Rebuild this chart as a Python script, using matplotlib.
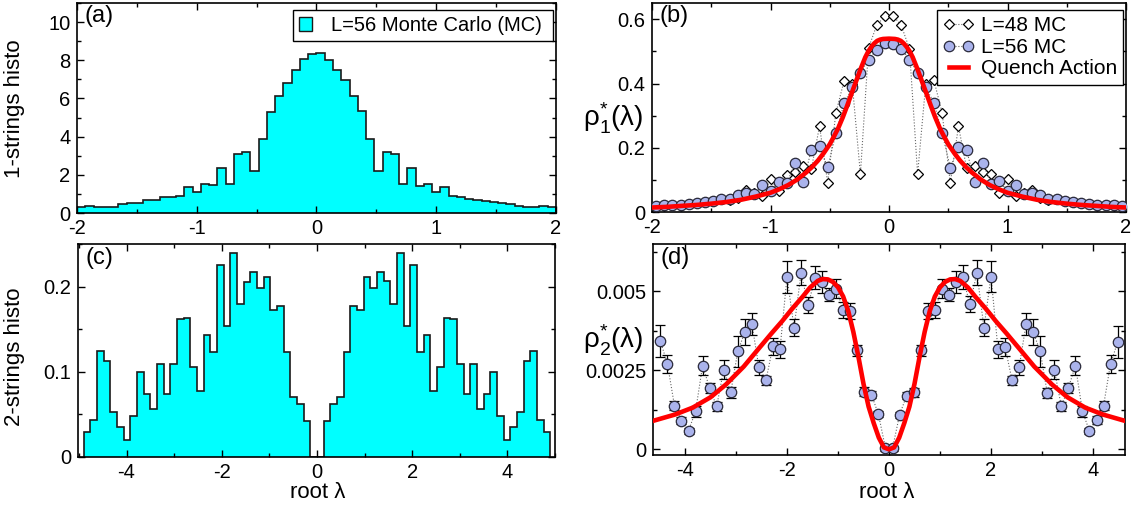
import numpy as np
import matplotlib
matplotlib.use("Agg")
import matplotlib.pyplot as plt
from matplotlib.ticker import MultipleLocator, FuncFormatter
from matplotlib.patches import Patch

plt.rcParams['font.family'] = ['Liberation Sans', 'DejaVu Sans']
plt.rcParams['axes.unicode_minus'] = False
plt.rcParams['mathtext.fontset'] = 'custom'
plt.rcParams['mathtext.rm'] = 'Liberation Sans'
plt.rcParams['mathtext.it'] = 'Liberation Sans:italic'

# ---------------- data ----------------
# (a) 1-strings histogram, 58 bins on [-2, 2]
hist1_edges = np.linspace(-2, 2, 59)
hist1_vals = [0.31, 0.35, 0.31, 0.31, 0.33, 0.45, 0.53, 0.55, 0.66, 0.66,
              0.82, 0.86, 0.88, 1.34, 1.10, 1.52, 1.46, 2.35, 1.50, 3.08,
              3.18, 2.20, 3.90, 5.30, 6.12, 6.82, 7.50, 8.05, 8.32,
              8.38, 8.03, 7.51, 6.96, 6.14, 5.34, 3.88, 2.21, 3.18, 3.08,
              1.51, 2.35, 1.44, 1.51, 1.10, 1.34, 0.87, 0.83, 0.75, 0.66,
              0.64, 0.56, 0.52, 0.45, 0.35, 0.33, 0.33, 0.35, 0.30]

# (c) 2-strings histogram, 70 bins of 0.14 on [-4.9, 4.9]
hist2_edges = np.linspace(-4.9, 4.9, 71)
hist2_vals = [0.0295, 0.044, 0.124, 0.113, 0.053, 0.035, 0.020, 0.048, 0.100, 0.074,
              0.056, 0.109, 0.074, 0.109, 0.162, 0.163, 0.106, 0.078, 0.143, 0.123,
              0.2256, 0.154, 0.239, 0.179, 0.205, 0.217, 0.198, 0.211, 0.173, 0.177,
              0.123, 0.070, 0.062, 0.042, 0.0, 0.0,
              0.042, 0.062, 0.071, 0.123, 0.177, 0.173, 0.211, 0.198, 0.217, 0.206,
              0.179, 0.239, 0.154, 0.2256, 0.123, 0.143, 0.078, 0.106, 0.163, 0.162,
              0.109, 0.074, 0.109, 0.056, 0.074, 0.100, 0.048, 0.020, 0.035, 0.053,
              0.113, 0.124, 0.044, 0.0295]

# (b) rho_1 densities on the bin centres of (a)
x_b = 0.5 * (hist1_edges[:-1] + hist1_edges[1:])
rho1_L48 = [0.018, 0.020, 0.021, 0.020, 0.025, 0.027, 0.030, 0.033, 0.040, 0.038,
            0.045, 0.068, 0.060, 0.050, 0.102, 0.066, 0.116, 0.125, 0.143, 0.135,
            0.267, 0.091, 0.309, 0.408, 0.400, 0.118, 0.511, 0.582, 0.610,
            0.612, 0.581, 0.509, 0.118, 0.400, 0.410, 0.309, 0.091, 0.267, 0.136,
            0.143, 0.125, 0.117, 0.060, 0.102, 0.050, 0.060, 0.068, 0.045, 0.038,
            0.040, 0.033, 0.030, 0.027, 0.025, 0.020, 0.021, 0.020, 0.018]
rho1_L56 = [0.020, 0.022, 0.021, 0.021, 0.024, 0.027, 0.031, 0.035, 0.039, 0.040,
            0.053, 0.060, 0.056, 0.083, 0.066, 0.095, 0.089, 0.153, 0.092, 0.194,
            0.205, 0.139, 0.245, 0.338, 0.388, 0.433, 0.475, 0.506, 0.527,
            0.522, 0.509, 0.475, 0.434, 0.388, 0.340, 0.247, 0.138, 0.203, 0.193,
            0.092, 0.153, 0.087, 0.096, 0.066, 0.083, 0.056, 0.060, 0.053, 0.040,
            0.039, 0.035, 0.031, 0.027, 0.024, 0.021, 0.021, 0.022, 0.020]
qa1_x = [-2.0, -1.875, -1.75, -1.625, -1.5, -1.375, -1.25, -1.125, -1.0, -0.925,
         -0.85, -0.775, -0.7, -0.65, -0.6, -0.55, -0.5, -0.465, -0.43, -0.39,
         -0.35, -0.315, -0.28, -0.24, -0.2, -0.175, -0.15, -0.125, -0.1, -0.075,
         -0.05, 0.0, 0.05, 0.075, 0.1, 0.125, 0.15, 0.175, 0.2, 0.24, 0.28,
         0.315, 0.35, 0.39, 0.43, 0.465, 0.5, 0.55, 0.6, 0.65, 0.7, 0.775,
         0.85, 0.925, 1.0, 1.125, 1.25, 1.375, 1.5, 1.625, 1.75, 1.875, 2.0]
qa1_y = [0.014, 0.016, 0.019, 0.022, 0.026, 0.031, 0.038, 0.048, 0.060, 0.071,
         0.084, 0.101, 0.123, 0.140, 0.160, 0.184, 0.211, 0.235, 0.260, 0.295,
         0.334, 0.370, 0.405, 0.445, 0.482, 0.500, 0.514, 0.525, 0.533, 0.537,
         0.539, 0.540, 0.539, 0.537, 0.533, 0.525, 0.514, 0.500, 0.482, 0.445, 0.405,
         0.370, 0.334, 0.295, 0.260, 0.235, 0.211, 0.184, 0.160, 0.140, 0.123, 0.101,
         0.084, 0.071, 0.060, 0.048, 0.038, 0.031, 0.026, 0.022, 0.019, 0.016, 0.014]

# (d) rho_2 densities (units of 1e-3) with error bars
x_d_half = 0.069 + 0.138 * np.arange(33)
x_d = np.concatenate([-x_d_half[::-1], x_d_half])
rho2_L56 = [3.42, 2.71, 1.38, 0.91, 0.59, 1.20, 2.65, 1.94, 1.36, 2.52,
            1.80, 3.10, 3.71, 3.98, 2.60, 2.18, 3.26, 3.16, 5.46, 3.85,
            5.59, 4.57, 5.43, 5.30, 4.90, 5.08, 4.40, 4.37, 3.13, 1.83,
            1.73, 1.11, 0.03,
            0.03, 1.09, 1.70, 1.81, 3.13, 4.37, 4.40, 5.08, 4.90, 5.30,
            5.46, 4.59, 5.59, 3.85, 5.47, 3.16, 3.24, 2.18, 2.60, 3.98,
            3.71, 3.10, 1.78, 2.52, 1.36, 1.94, 2.65, 1.20, 0.58, 0.93,
            1.38, 2.71, 3.39]
rho2_err = [0.50, 0.28, 0.15, 0.12, 0.10, 0.18, 0.29, 0.15, 0.14, 0.30,
            0.17, 0.50, 0.40, 0.35, 0.24, 0.15, 0.27, 0.26, 0.50, 0.27,
            0.40, 0.25, 0.37, 0.34, 0.20, 0.30, 0.25, 0.25, 0.16, 0.14,
            0.12, 0.10, 0.08,
            0.08, 0.10, 0.12, 0.14, 0.16, 0.25, 0.25, 0.30, 0.20, 0.34,
            0.37, 0.25, 0.40, 0.27, 0.50, 0.26, 0.27, 0.15, 0.24, 0.35,
            0.40, 0.50, 0.17, 0.30, 0.14, 0.15, 0.29, 0.18, 0.10, 0.12,
            0.15, 0.28, 0.50]
qa2_x = [-4.63, -4.2, -3.85, -3.5, -3.2, -2.85, -2.55, -2.3, -2.1, -1.9,
         -1.7, -1.55, -1.4, -1.3, -1.2, -1.1, -1.0, -0.9, -0.8, -0.7, -0.6,
         -0.5, -0.4, -0.3, -0.2, -0.1, 0.0, 0.1, 0.2, 0.3, 0.4, 0.5, 0.6,
         0.7, 0.8, 0.9, 1.0, 1.1, 1.2, 1.3, 1.4, 1.55, 1.7, 1.9, 2.1, 2.3,
         2.55, 2.85, 3.2, 3.5, 3.85, 4.2, 4.63]
qa2_y = [0.90, 1.10, 1.32, 1.65, 2.05, 2.62, 3.20, 3.68, 4.05, 4.45,
         4.82, 5.12, 5.33, 5.39, 5.38, 5.30, 5.13, 4.84, 4.38, 3.72, 2.93,
         2.07, 1.35, 0.83, 0.37, 0.06, 0.0, 0.06, 0.37, 0.83, 1.35, 2.07, 2.93,
         3.72, 4.38, 4.84, 5.13, 5.30, 5.38, 5.39, 5.33, 5.12, 4.82, 4.45, 4.05,
         3.68, 3.20, 2.62, 2.05, 1.65, 1.32, 1.10, 0.90]

# ---------------- styling ----------------
W, H = 1133, 514
fig = plt.figure(figsize=(W / 100, H / 100), dpi=100)

def frac(l, r, t, b):
    return [l / W, 1 - b / H, (r - l) / W, (b - t) / H]

axA = fig.add_axes(frac(77, 556, 3, 213))
axB = fig.add_axes(frac(652, 1126, 3, 212))
axC = fig.add_axes(frac(78, 555, 244, 457))
axD = fig.add_axes(frac(653, 1125, 244, 455))

FS = 14.5
fmt = FuncFormatter(lambda v, p: '%g' % v)
for ax in (axA, axB, axC, axD):
    ax.tick_params(which='both', direction='in', top=True, right=True,
                   labelsize=FS, width=1.0)
    ax.tick_params(which='major', length=5)
    ax.tick_params(which='minor', length=3)
    ax.tick_params(axis='x', which='major', pad=4.6)
    ax.tick_params(axis='y', which='major', pad=4.6)
    for s in ax.spines.values():
        s.set_linewidth(1.2)
    ax.xaxis.set_major_formatter(fmt)
    ax.yaxis.set_major_formatter(fmt)

cyan = '#00ffff'
edge = '#1a1a1a'
circ_face = '#aab3ec'
circ_edge = '#2a2a3a'
red = '#ff0000'
PL = 17

# (a)
axA.stairs(hist1_vals, hist1_edges, fill=True, color=cyan, baseline=0)
axA.stairs(hist1_vals, hist1_edges, color=edge, lw=1.2, baseline=0)
axA.set_xlim(-2, 2)
axA.set_ylim(0, 11)
axA.xaxis.set_major_locator(MultipleLocator(1))
axA.xaxis.set_minor_locator(MultipleLocator(0.5))
axA.yaxis.set_major_locator(MultipleLocator(2))
axA.yaxis.set_minor_locator(MultipleLocator(1))
legA = axA.legend([Patch(facecolor=cyan, edgecolor=edge, lw=1)],
                  ['L=56 Monte Carlo (MC) '], loc='upper right',
                  bbox_to_anchor=(0.994, 0.967), borderaxespad=0,
                  fontsize=14.5, handlelength=0.65, handleheight=0.65,
                  handletextpad=0.9, borderpad=0.3, fancybox=False,
                  framealpha=1)
legA.get_frame().set_edgecolor('black')
legA.get_frame().set_linewidth(1.0)
axA.text(0.016, 0.99, '(a)', transform=axA.transAxes, ha='left', va='top',
         fontsize=PL)

# (b)
axB.plot(x_b, rho1_L48, ls=':', color='#666666', lw=0.8, marker='D', ms=5.5,
         mfc='white', mec='black', mew=0.9, label='L=48 MC', zorder=3)
axB.plot(x_b, rho1_L56, ls=':', color='#666666', lw=0.8, marker='o', ms=7.5,
         mfc=circ_face, mec=circ_edge, mew=0.9, label='L=56 MC', zorder=4)
axB.plot(qa1_x, qa1_y, color=red, lw=3.3, label='Quench Action', zorder=5)
axB.set_xlim(-2, 2)
axB.set_ylim(0, 0.651)
axB.xaxis.set_major_locator(MultipleLocator(1))
axB.xaxis.set_minor_locator(MultipleLocator(0.5))
axB.yaxis.set_major_locator(MultipleLocator(0.2))
axB.yaxis.set_minor_locator(MultipleLocator(0.1))
legB = axB.legend(loc='upper right', bbox_to_anchor=(0.994, 0.966),
                  borderaxespad=0, fontsize=15, handlelength=1.5,
                  handletextpad=0.3, borderpad=0.3, labelspacing=0.12,
                  numpoints=2, fancybox=False, framealpha=1)
legB.get_frame().set_edgecolor('black')
legB.get_frame().set_linewidth(1.0)
axB.text(0.016, 0.99, '(b)', transform=axB.transAxes, ha='left', va='top',
         fontsize=PL)

# (c)
axC.stairs(hist2_vals, hist2_edges, fill=True, color=cyan, baseline=0)
axC.stairs(hist2_vals, hist2_edges, color=edge, lw=1.2, baseline=0)
axC.set_xlim(-5.02, 5.0)
axC.set_ylim(0, 0.25)
axC.xaxis.set_major_locator(MultipleLocator(2))
axC.xaxis.set_minor_locator(MultipleLocator(1))
axC.yaxis.set_major_locator(MultipleLocator(0.1))
axC.yaxis.set_minor_locator(MultipleLocator(0.05))
axC.text(0.016, 0.985, '(c)', transform=axC.transAxes, ha='left', va='top',
         fontsize=PL)

# (d)
y2 = np.array(rho2_L56) * 1e-3
e2 = np.array(rho2_err) * 1e-3
axD.plot(x_d, y2, ls=':', color='#666666', lw=0.8, zorder=2)
axD.errorbar(x_d, y2, yerr=e2, fmt='none', ecolor='black', elinewidth=0.9,
             capsize=3.6, capthick=0.9, zorder=3)
axD.plot(x_d, y2, ls='none', marker='o', ms=7.5, mfc=circ_face, mec=circ_edge,
         mew=0.9, zorder=4)
axD.plot(qa2_x, np.array(qa2_y) * 1e-3, color=red, lw=3.3, zorder=5)
axD.set_xlim(-4.63, 4.63)
axD.set_ylim(-0.00018, 0.0065)
axD.xaxis.set_major_locator(MultipleLocator(2))
axD.xaxis.set_minor_locator(MultipleLocator(1))
axD.yaxis.set_major_locator(MultipleLocator(0.0025))
axD.yaxis.set_minor_locator(MultipleLocator(0.00125))
axD.text(0.016, 0.985, '(d)', transform=axD.transAxes, ha='left', va='top',
         fontsize=PL)

# axis labels
fig.text(15 / W, 1 - 109 / H, '1-strings histo', rotation=90, ha='center',
         va='center', fontsize=16)
fig.text(15 / W, 1 - 357 / H, '2-strings histo', rotation=90, ha='center',
         va='center', fontsize=16)
fig.text(318 / W, 1 - 493 / H, 'root λ', ha='center', va='center', fontsize=16)
fig.text(887 / W, 1 - 493 / H, 'root λ', ha='center', va='center', fontsize=16)
fig.text(613 / W, 1 - 118 / H, r'$\mathregular{\rho^{*}_{1}(\lambda)}$',
         ha='center', va='center', fontsize=20)
fig.text(613 / W, 1 - 340 / H, r'$\mathregular{\rho^{*}_{2}(\lambda)}$',
         ha='center', va='center', fontsize=20)

fig.savefig('out.png', dpi=100)
